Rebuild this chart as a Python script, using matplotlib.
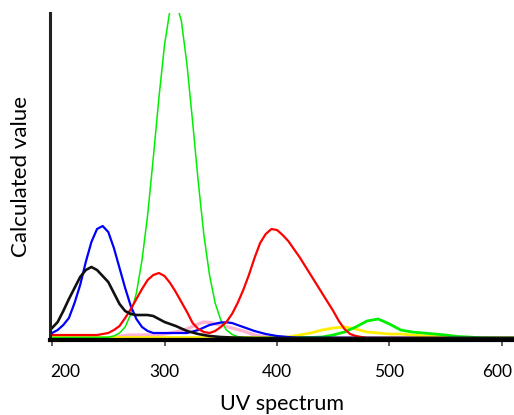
import matplotlib.pyplot as plt
import matplotlib.transforms as mtransforms

# each curve at its own wavelengths (nm);
# heights are in arbitrary "calculated value" units
blue_wl = [200, 205, 210, 215, 220, 225, 230, 235, 240, 245, 250, 255, 260, 265,
           270, 275, 280, 285, 290, 300, 310, 320, 330, 340, 350, 355, 360, 370,
           380, 390, 400, 410, 420, 610]
blue = [5, 8, 13, 20, 35, 53, 76, 96, 109, 112, 106, 90, 70, 50,
        32, 19, 11, 7, 5, 5, 5, 5, 8, 13, 15.5, 15.7, 15, 11,
        7, 4, 2, 1, 0.3, 0]

black_wl = [200, 205, 210, 215, 220, 225, 230, 235, 240, 245, 250, 255, 260, 265,
            270, 275, 280, 285, 290, 295, 300, 310, 320, 330, 340, 350, 360, 380, 610]
black = [10, 16, 27, 39, 50, 61, 68, 71, 68, 62, 56, 45, 34, 27,
         24, 23, 23, 23, 22, 19, 16, 12, 7, 4, 2, 1, 0.5, 0, 0]

red_wl = [200, 240, 245, 250, 255, 260, 265, 270, 275, 280, 285, 290, 295, 300,
          305, 310, 315, 320, 325, 330, 335, 340, 345, 350, 355, 360, 365, 370,
          375, 380, 385, 390, 395, 400, 405, 410, 415, 420, 425, 430, 435, 440,
          445, 450, 455, 460, 465, 470, 475, 480, 610]
red = [3, 3, 4, 5, 8, 12, 20, 29, 39, 49, 58, 63, 65, 62,
       55, 46, 36, 26, 15, 9, 6, 5, 7, 11, 16, 24, 35, 48,
       63, 80, 95, 104, 109, 108, 103, 97, 89, 81, 72, 63, 54, 45,
       36, 27, 17, 9, 4, 2, 1, 0, 0]

green_wl = [200, 250, 255, 260, 265, 270, 275, 280, 285, 290, 295, 300, 305, 310,
            315, 320, 325, 330, 335, 340, 345, 350, 355, 360, 365, 370, 420]
green = [0.5, 0.8, 2, 5, 11, 24, 45, 78, 123, 180, 240, 293, 329, 337,
         317, 273, 216, 156, 103, 63, 35, 18, 8, 3.6, 1.4, 0.5, 0.5]

green2_wl = [420, 430, 440, 450, 460, 470, 480, 490, 500, 510, 520, 530,
             540, 550, 560, 570, 580, 600, 610]
green2 = [0.5, 0.5, 1, 3, 6, 11, 17, 19, 14, 8, 6, 5,
          4, 3, 1.5, 1, 0.3, 0, 0]

pink_wl = [200, 250, 260, 270, 280, 290, 300, 310, 320, 330, 335, 340, 350, 360,
           370, 380, 390, 400, 610]
pink = [0, 0, 2, 3, 3, 3, 4, 6, 9, 14, 16, 15.5, 13, 10,
        7, 3, 1, 0, 0]

yellow_wl = [200, 400, 410, 420, 430, 440, 450, 460, 470, 480, 490, 500, 510, 520,
             530, 540, 550, 560, 570, 610]
yellow = [0.5, 0.5, 1, 3, 5, 8, 10, 11, 9, 6, 5, 4, 4, 3,
          2, 1.5, 1, 0.5, 0, 0]

xticks = [200, 300, 400, 500, 600]

fig = plt.figure(figsize=(5.14, 4.15), dpi=100)
ax = fig.add_axes([0.0973, 0.1807, 0.9027, 0.788])

ax.plot(pink_wl, pink, color='#ffb3d0', lw=2.4, solid_capstyle='round')
ax.plot(yellow_wl, yellow, color='#ffee00', lw=2.0)
ax.plot(green_wl, green, color='#00ee00', lw=1.1)
ax.plot(green2_wl, green2, color='#00ee00', lw=2.0)
ax.plot(blue_wl, blue, color='#0000ff', lw=1.6)
ax.plot(red_wl, red, color='#ff0000', lw=1.6)
ax.plot(black_wl, black, color='#111111', lw=1.9)

ax.set_xlim(198.2, 610.7)
ax.set_ylim(-2, 325)

for s in ['top', 'right']:
    ax.spines[s].set_visible(False)
ax.spines['left'].set_linewidth(2.2)
ax.spines['left'].set_color('#222222')
ax.spines['bottom'].set_linewidth(3)
ax.spines['bottom'].set_color('black')

ax.set_yticks([])
ax.set_xticks(xticks)
ax.set_xticklabels([str(t) for t in xticks], fontsize=12.5, family='Lato')
ax.tick_params(axis='x', direction='out', length=4, width=1.2, color='#444444', pad=13)

labels = ax.get_xticklabels()
labels[0].set_horizontalalignment('left')
labels[0].set_transform(labels[0].get_transform() +
                        mtransforms.ScaledTranslation(-0.02, 0, fig.dpi_scale_trans))
labels[-1].set_transform(labels[-1].get_transform() +
                         mtransforms.ScaledTranslation(-0.05, 0, fig.dpi_scale_trans))

ax.set_xlabel('UV spectrum', fontsize=15.5, family='Lato', labelpad=10)
ax.set_ylabel('Calculated value', fontsize=16, family='Lato', labelpad=14)

plt.savefig('out.png', dpi=100)
